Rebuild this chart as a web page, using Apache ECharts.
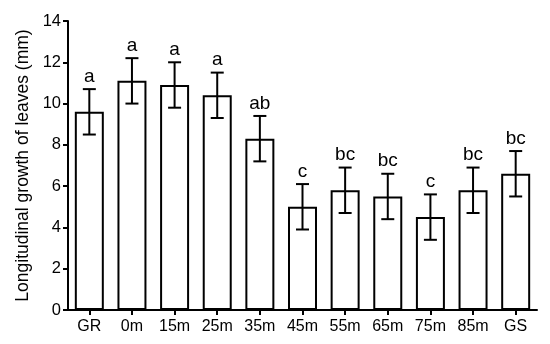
<!DOCTYPE html>
<html>
<head>
<meta charset="utf-8">
<script src="https://cdn.jsdelivr.net/npm/echarts@6/dist/echarts.min.js"></script>
<style>html,body{margin:0;padding:0;background:#fff}#c{width:550px;height:344px}</style>
</head>
<body>
<div id="c"></div>
<script>
const categories = ['GR','0m','15m','25m','35m','45m','55m','65m','75m','85m','GS'];
const means = [9.6, 11.1, 10.9, 10.4, 8.3, 5.0, 5.8, 5.5, 4.5, 5.8, 6.6];
const errors = [1.1, 1.1, 1.1, 1.1, 1.1, 1.1, 1.1, 1.1, 1.1, 1.1, 1.1];
const letters = ['a','a','a','a','ab','c','bc','bc','c','bc','bc'];
const yTicks = [0, 2, 4, 6, 8, 10, 12, 14];
const yTitle = 'Longitudinal growth of leaves (mm)';

const FONT = 'Liberation Sans, Arial, sans-serif';
const chart = echarts.init(document.getElementById('c'), null, {renderer: 'canvas'});
const errData = means.map((m, i) => [i, m + errors[i], m - errors[i], m]);

chart.setOption({
  animation: false,
  backgroundColor: '#fff',
  grid: {left: 68, right: 13, top: 21, bottom: 34, containLabel: false},
  xAxis: {
    type: 'category',
    data: categories,
    boundaryGap: true,
    axisLine: {show: true, lineStyle: {color: '#000', width: 2}},
    axisTick: {show: true, alignWithLabel: true, length: 5, lineStyle: {color: '#000', width: 2}},
    axisLabel: {color: '#000', fontSize: 16, fontFamily: FONT, margin: 9, interval: 0}
  },
  yAxis: {
    type: 'value',
    min: yTicks[0],
    max: yTicks[yTicks.length - 1],
    interval: 2,
    name: yTitle,
    nameLocation: 'middle',
    nameGap: 31,
    nameTextStyle: {color: '#000', fontSize: 17.5, fontFamily: FONT},
    axisLine: {show: true, lineStyle: {color: '#000', width: 2}},
    axisTick: {show: true, length: 5, lineStyle: {color: '#000', width: 2}},
    axisLabel: {color: '#000', fontSize: 16.5, fontFamily: FONT, margin: 7},
    splitLine: {show: false}
  },
  series: [
    {
      type: 'bar',
      data: means,
      barWidth: '68%',
      itemStyle: {color: '#fff', borderColor: '#000', borderWidth: 2},
      z: 2
    },
    {
      type: 'custom',
      data: errData,
      encode: {x: 0, y: [1, 2]},
      z: 5,
      renderItem: function (params, api) {
        const i = api.value(0);
        const hi = api.coord([i, api.value(1)]);
        const lo = api.coord([i, api.value(2)]);
        const hw = 6.5;
        const st = {stroke: '#000', lineWidth: 2};
        return {
          type: 'group',
          children: [
            {type: 'line', shape: {x1: hi[0], y1: hi[1], x2: lo[0], y2: lo[1]}, style: st},
            {type: 'line', shape: {x1: hi[0] - hw, y1: hi[1], x2: hi[0] + hw, y2: hi[1]}, style: st},
            {type: 'line', shape: {x1: lo[0] - hw, y1: lo[1], x2: lo[0] + hw, y2: lo[1]}, style: st},
            {type: 'text', style: {
              text: letters[i], x: hi[0], y: hi[1] - 3,
              align: 'center', verticalAlign: 'bottom',
              fontSize: 19, fontFamily: FONT, fill: '#000'
            }}
          ]
        };
      }
    }
  ]
});
</script>
</body>
</html>
